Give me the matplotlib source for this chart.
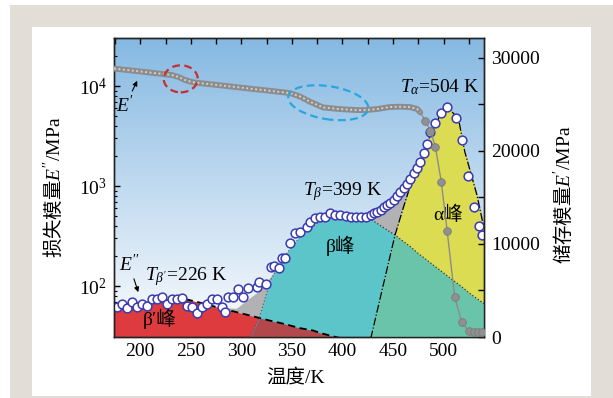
import numpy as np
import matplotlib
matplotlib.use("Agg")
import matplotlib.pyplot as plt
from matplotlib import transforms
from matplotlib.patches import Rectangle, Ellipse
from matplotlib.colors import LinearSegmentedColormap
from matplotlib.ticker import MultipleLocator, LogLocator, NullFormatter, FixedLocator, StrMethodFormatter

plt.rcParams['font.family'] = ['Liberation Serif', 'Noto Sans CJK SC']
plt.rcParams['mathtext.fontset'] = 'custom'
plt.rcParams['mathtext.rm'] = 'Liberation Serif'
plt.rcParams['mathtext.it'] = 'Liberation Serif:italic'
plt.rcParams['mathtext.bf'] = 'Liberation Serif:bold'
plt.rcParams['font.size'] = 14

# --- data ---
# loss modulus E'' (MPa), open circles
temp_loss = [177, 182, 187, 192, 197, 202, 207, 212, 216.5, 221.5, 226.5, 231, 236, 241, 246,
             251, 256, 261, 266, 271, 276, 281, 284, 287, 292, 297, 302, 307, 315.5, 317,
             324, 329, 332, 337, 340, 343.5, 348.5, 353.5, 358, 365, 368, 373, 378, 383, 388,
             393, 398, 403, 408, 413, 418, 423, 428, 431, 434, 438, 441, 444, 447.5, 451,
             454, 457, 461, 464, 467, 470.6, 474, 477, 480.5, 484, 487, 492, 497, 503.6, 512,
             518, 524.5, 530.5, 535.5, 538]
loss_mod = [62, 66, 60, 70, 62, 67, 63, 75, 75, 77, 66, 75, 74, 76, 64,
            62, 54, 62, 67, 75, 74, 62, 55, 78, 78, 93, 78, 95, 98, 110,
            106, 154, 158, 150, 189, 189, 267, 336, 349, 392, 440, 475, 493, 493, 541,
            513, 513, 501, 486, 493, 493, 486, 513, 533, 553, 575, 621, 646, 671, 724,
            794, 877, 948, 1047, 1167, 1340, 1503, 1750, 2122, 2630, 3490, 4230, 5330, 6100, 4750,
            2880, 1260, 621, 401, 324]

# storage modulus E' (MPa): densely sampled part
temp_store = [174, 190, 205, 218, 226, 232, 238, 244, 250, 254, 270, 290, 310, 330, 348,
              358, 368, 381, 397, 414, 423, 434, 447, 457, 467, 474, 477]
store_mod = [28860, 28670, 28490, 28330, 28230, 28150, 27950, 27650, 27450, 27360, 27170,
             26930, 26690, 26450, 26230, 25860, 25290, 24680, 24510, 24400, 24400, 24510,
             24730, 24760, 24720, 24510, 24150]
# storage modulus E' (MPa): sparse points through the glass transition
temp_store_drop = [482, 487, 492, 497.7, 503.6, 511, 517.8, 525, 530, 534.5, 538.5]
store_mod_drop = [23260, 22190, 20400, 16720, 11360, 4320, 1640, 640, 540, 530, 530]

# peak deconvolution of E'' (MPa)
temp_fit = [174, 200, 225, 245, 260, 280, 295, 308, 318, 329, 342, 358, 371, 378, 388, 399,
            410, 418, 426, 428, 440, 452, 460, 467, 474, 480, 487, 492, 497, 504, 510, 515,
            521, 527, 533, 540]
peak_beta1 = [68, 70, 72, 74, 68, 60, 55, 51, 48, 45, 42, 38, 36, 34, 32, 30,
              28, 27, 26, 25, 20, 20, 20, 20, 20, 20, 20, 20, 20, 20, 20, 20,
              20, 20, 20, 20]
peak_beta = [20, 20, 20, 20, 20, 20, 20, 30, 49, 115, 196, 311, 400, 440, 493, 500,
             495, 487, 475, 465, 388, 324, 281, 249, 216, 194, 171, 156, 143, 126, 113, 104,
             93, 83, 75, 67]
peak_alpha = [20, 20, 20, 20, 20, 20, 20, 20, 20, 20, 20, 20, 20, 20, 20, 20,
              20, 20, 20, 30, 99, 324, 600, 1000, 1450, 2000, 3300, 4100, 5200, 6100, 5300, 4570,
              2200, 1340, 813, 377]
fit_total = [68, 70, 72, 74, 68, 61, 60, 76, 90, 125, 200, 320, 410, 450, 500, 505,
             500, 495, 495, 500, 560, 700, 820, 1080, 1500, 2050, 3350, 4150, 5250, 6150, 5350, 4600,
             2250, 1400, 850, 420]

x_ticks = [200, 250, 300, 350, 400, 450, 500]
right_ticks = [0, 10000, 20000, 30000]

W, H = 613, 398
fig = plt.figure(figsize=(W / 100, H / 100), dpi=100)
fig.patch.set_facecolor('white')
# page frame
fig.add_artist(Rectangle((10 / W, 0), 603 / W, 393 / H, transform=fig.transFigure,
                         facecolor='#e3ddd8', edgecolor='none', zorder=-10))
fig.add_artist(Rectangle((32 / W, 2 / H), 559 / W, 369 / H, transform=fig.transFigure,
                         facecolor='white', edgecolor='none', zorder=-9))

pos = [114 / W, 61 / H, 370 / W, 299 / H]

# gradient background behind the plot
bg = fig.add_axes(pos)
cmap = LinearSegmentedColormap.from_list('sky', [(0, '#ffffff'), (0.15, '#eaf2fa'), (1, '#86b9e2')])
bg.imshow(np.linspace(0, 1, 256).reshape(-1, 1), cmap=cmap, aspect='auto', origin='lower',
          extent=[0, 1, 0, 1])
bg.axis('off')

ax1 = fig.add_axes(pos)
ax1.patch.set_visible(False)
ax1.set_yscale('log')
ax2 = ax1.twinx()

# deconvoluted peaks
floor = 20
b1 = np.array(peak_beta1)
bb = np.array(peak_beta)
ba = np.array(peak_alpha)
ax1.fill_between(temp_fit, floor, fit_total, color='#b2b2b4', lw=0, zorder=1)
ax1.fill_between(temp_fit, floor, b1, color='#dd3b3e', lw=0, zorder=2)
ax1.fill_between(temp_fit, floor, bb, color='#5bc5c9', lw=0, zorder=2)
ax1.fill_between(temp_fit, floor, ba, color='#dcdc52', lw=0, zorder=2)
ax1.fill_between(temp_fit, floor, np.minimum(b1, bb), color='#b2484b', lw=0, zorder=3)
ax1.fill_between(temp_fit, floor, np.minimum(bb, ba), color='#69c4a9', lw=0, zorder=3)

ax1.plot(temp_fit[3:], peak_beta1[3:], color='k', ls=(0, (4, 2.5)), lw=1.3, zorder=4)
ax1.plot(temp_fit[7:19], peak_beta[7:19], color='#23787c', ls=':', lw=0.9, zorder=4)
ax1.plot(temp_fit[18:], peak_beta[18:], color='#333333', ls=':', lw=0.9, zorder=4)
ax1.plot(temp_fit[19:], peak_alpha[19:], color='k', ls='-.', lw=0.9, zorder=4)

# E'' data
ax1.plot(temp_loss, loss_mod, 'o', ms=6.3, mfc='white', mec='#3a3ab2', mew=1.1, zorder=6)

# E' data (grey beads)
ax2.plot(temp_store + temp_store_drop, store_mod + store_mod_drop, color='#8c8c8c', lw=1.0, zorder=3)
ax2.plot(temp_store, store_mod, color='#8c8c8c', lw=4.2, solid_capstyle='round', zorder=4)
ax2.plot(temp_store, store_mod, color='#cfcfcf', lw=1.4, ls=(0, (1, 1.3)), zorder=5)
ax2.plot(temp_store_drop, store_mod_drop, 'o', ms=5.5, mfc='#909090', mec='#7a7a7a', mew=0.6, zorder=5)


def mark_ellipse(ax, x, y, w, h, angle, color):
    tr = fig.dpi_scale_trans + transforms.ScaledTranslation(x, y, ax.transData)
    ax.add_patch(Ellipse((0, 0), w, h, angle=angle, transform=tr, fill=False,
                         ec=color, lw=1.6, ls=(0, (3.5, 2)), zorder=7))


ax1.set_xlim(174, 540)
ax1.set_ylim(31, 30200)
ax2.set_ylim(0, 32150)

mark_ellipse(ax2, 240, 27760, 0.34, 0.27, 0, '#c62f32')
mark_ellipse(ax2, 386, 25190, 0.81, 0.33, -9, '#2aa6de')

# annotations
arrow = dict(arrowstyle='-|>', color='k', lw=0.8, mutation_scale=7, shrinkA=1, shrinkB=0)
ax1.annotate("$E''$", xy=(198, 87), xytext=(189, 166), ha='center', va='center', arrowprops=arrow, zorder=8)
ax2.annotate("$E'$", xy=(197, 27550), xytext=(185, 24870), ha='center', va='center', arrowprops=arrow, zorder=8)
ax1.text(536, 8710, r'$T_{\alpha}$=504 K', ha='right', va='baseline', zorder=8)
ax1.text(361, 813, r'$T_{\beta}$=399 K', ha='left', va='baseline', zorder=8)
ax1.text(205, 115, r"$T_{\beta'}$=226 K", ha='left', va='baseline', zorder=8)
ax1.text(202, 41, 'β′峰', ha='left', va='baseline', zorder=8)
ax1.text(383, 220, 'β峰', ha='left', va='baseline', zorder=8)
ax1.text(490, 457, 'α峰', ha='left', va='baseline', zorder=8)

# axes styling
ax1.xaxis.set_major_locator(FixedLocator(x_ticks))
ax1.xaxis.set_minor_locator(MultipleLocator(25))
ax1.yaxis.set_major_locator(LogLocator(base=10))
ax1.yaxis.set_minor_locator(LogLocator(base=10, subs=np.arange(2, 10)))
ax1.yaxis.set_minor_formatter(NullFormatter())
ax2.yaxis.set_major_locator(FixedLocator(right_ticks))
ax2.yaxis.set_minor_locator(MultipleLocator(5000))
ax2.yaxis.set_major_formatter(StrMethodFormatter('{x:.0f}'))

ax1.tick_params(axis='x', which='both', direction='in', top=True, length=4.5, width=1, pad=4, labelsize=14)
ax1.tick_params(axis='y', which='major', direction='in', length=4.5, width=1, pad=5, labelsize=14)
ax1.tick_params(axis='y', which='minor', direction='in', length=2.5, width=0.8)
ax2.tick_params(axis='y', which='both', direction='in', length=4.5, width=1, pad=5, labelsize=14)
for sp in ax1.spines.values():
    sp.set_linewidth(1.0)
    sp.set_color('#222222')
for sp in ax2.spines.values():
    sp.set_linewidth(1.0)
    sp.set_color('#222222')

ax1.set_xlabel('温度/K', fontsize=14)
ax1.xaxis.set_label_coords(0.49, -0.104)
ax1.set_ylabel(r"损失模量$E''/\mathrm{MPa}$", fontsize=14, family='Noto Sans CJK SC')
ax1.yaxis.set_label_coords(-0.132, 0.5)
ax2.set_ylabel(r"储存模量$E'/\mathrm{MPa}$", fontsize=14, family='Noto Sans CJK SC')
ax2.yaxis.set_label_coords(1.186, 0.475)

fig.savefig('out.png', dpi=100)
